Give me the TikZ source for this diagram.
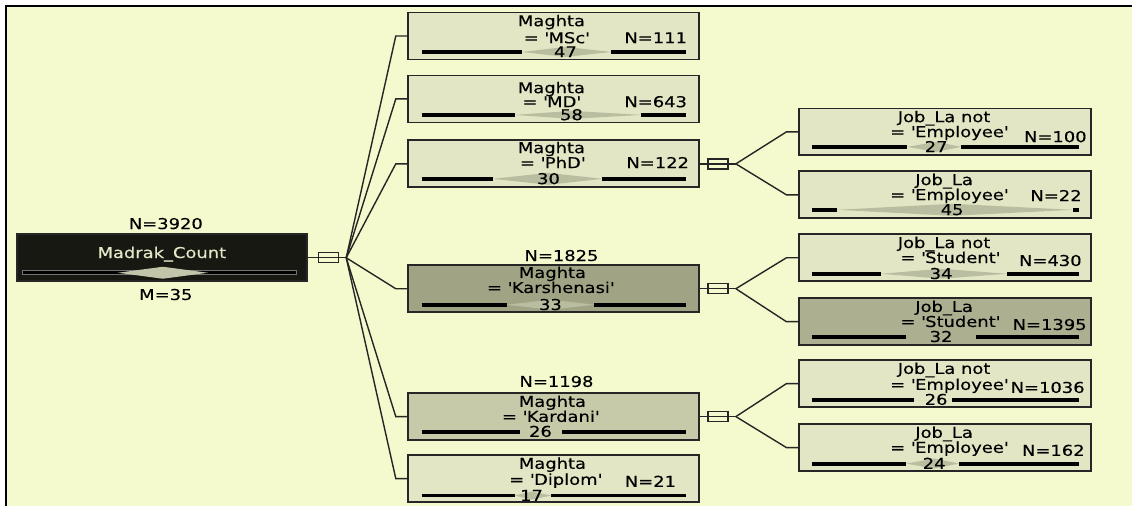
\documentclass[tikz,border=0pt]{standalone}
\usepackage{fontspec}
\setmainfont{DejaVu Sans}[FakeStretch=1.2, FakeBold=0.3]
\usetikzlibrary{calc}
\definecolor{paper}{RGB}{244,250,205}
\definecolor{boxlight}{RGB}{226,230,196}
\definecolor{boxmid}{RGB}{198,202,168}
\definecolor{boxdark}{RGB}{160,164,132}
\definecolor{boxdeep}{RGB}{172,176,144}
\definecolor{spindle}{RGB}{186,190,160}
\definecolor{rootfill}{RGB}{24,24,19}
\definecolor{roottext}{RGB}{228,232,200}
\tikzstyle{split box}=[draw=black!85, line width=1pt, minimum width=5.84cm, minimum height=0.94cm, inner sep=0pt]
\tikzstyle{root box}=[split box, fill=rootfill, minimum width=5.8cm]
\tikzstyle{toggle}=[draw=black!85, line width=0.8pt, fill=paper, minimum width=0.4cm, minimum height=0.2cm, inner sep=0pt]
\tikzstyle{edge}=[draw, line width=0.8pt, black!85]
\tikzstyle{txt}=[font=\fontsize{8.5}{10}\selectfont, inner sep=0pt, text height=1.3ex, text depth=0pt]
\tikzstyle{count}=[txt, anchor=east]
\tikzstyle{bar}=[line width=2.2pt, black]
\newcommand{\quoted}[1]{\textquotesingle#1\textquotesingle}

\begin{document}
\begin{tikzpicture}[x=0.02cm, y=-0.02cm]
	% Background and frame
	\fill[white] (0,0) rectangle (1133,506);
	\fill[paper] (6,6) rectangle (1133,506);
	\draw[line width=1.2pt] (6,506) -- (6,6) -- (1133,6);

	% Root node
	\node[root box] (madrak) at (162,258) {};
	\node[txt, text=roottext] (madraklabel) at (162,252) {Madrak\_Count};
	\node[txt] (madrakn) at (166,223) {N=3920};
	\node[txt] (madrakm) at (166,294) {M=35};
	\filldraw[fill=black, draw=black!55, line width=0.4pt] (22,271) rectangle (297,275);
	\fill[roottext!85!black] (118,273) -- (163,267) -- (208,273) -- (163,279) -- cycle;

	% First split: the Maghta boxes
	\foreach \pos/\label/\shade in {
		{(554,36)/msc/boxlight},
		{(554,99)/md/boxlight},
		{(554,164)/phd/boxlight},
		{(554,289)/karsh/boxdark},
		{(554,417)/kard/boxmid},
		{(554,479)/diplom/boxlight}}
	\node[split box, fill=\shade] (\label) at \pos {};

	% Second split: the Job_La boxes
	\foreach \pos/\label/\shade in {
		{(946,132)/phdno/boxlight},
		{(946,195)/phdyes/boxlight},
		{(946,258)/karshno/boxlight},
		{(946,322)/karshyes/boxdeep},
		{(946,384)/kardno/boxlight},
		{(946,448)/kardyes/boxlight}}
	\node[split box, fill=\shade] (\label) at \pos {};

	% Bars with spindles and means
	\foreach \y/\a/\b/\xv/\v/\h/\l/\r in {
		52/522/612/566/47/5/422/687,
		115/515/642/572/58/4/422/687,
		179/493/603/549/30/6/422/687,
		305/507/595/551/33/5/422/687,
		432/520/563/541/26/0/422/687,
		496/515/552/532/17/4/422/687,
		147/908/962/937/27/5/813/1080,
		210/838/1074/953/45/6/813/1080,
		274/882/1008/942/34/5/813/1080,
		337/907/977/942/32/0/813/1080,
		400/915/953/937/26/0/813/1080,
		464/907/960/935/24/5/813/1080}
	{
		\draw[bar] (\l,\y) -- (\a,\y);
		\draw[bar] (\b,\y) -- (\r,\y);
		\fill[spindle] (\a,\y) -- (\xv,\y-\h) -- (\b,\y) -- (\xv,\y+\h) -- cycle;
		\node[txt] at (\xv,\y-1) {\v};
	}

	% Texts of the Maghta boxes
	\foreach \pos/\label/\name in {
		{(552,20)/mscvar/Maghta}, {(557,37)/msccond/= \quoted{MSc}},
		{(552,87)/mdvar/Maghta}, {(552,101)/mdcond/= \quoted{MD}},
		{(552,147)/phdvar/Maghta}, {(553,162)/phdcond/= \quoted{PhD}},
		{(553,272)/karshvar/Maghta}, {(551,287)/karshcond/= \quoted{Karshenasi}},
		{(553,401)/kardvar/Maghta}, {(551,416)/kardcond/= \quoted{Kardani}},
		{(553,463)/diplomvar/Maghta}, {(556,479)/diplomcond/= \quoted{Diplom}},
		{(562,255)/karshn/N=1825}, {(557,381)/kardn/N=1198}}
	\node[txt] (\label) at \pos {\name};

	\foreach \pos/\label/\name in {
		{(688,37)/mscn/N=111}, {(688,101)/mdn/N=643},
		{(690,162)/phdn/N=122}, {(677,481)/diplomn/N=21}}
	\node[count] (\label) at \pos {\name};

	% Texts of the Job_La boxes
	\foreach \pos/\label/\name in {
		{(945,116)/phdnovar/Job\_La not}, {(950,131)/phdnocond/= \quoted{Employee}},
		{(945,179)/phdyesvar/Job\_La}, {(950,194)/phdyescond/= \quoted{Employee}},
		{(945,242)/karshnovar/Job\_La not}, {(951,257)/karshnocond/= \quoted{Student}},
		{(945,306)/karshyesvar/Job\_La}, {(951,321)/karshyescond/= \quoted{Student}},
		{(945,368)/kardnovar/Job\_La not}, {(950,384)/kardnocond/= \quoted{Employee}},
		{(945,432)/kardyesvar/Job\_La}, {(950,447)/kardyescond/= \quoted{Employee}}}
	\node[txt] (\label) at \pos {\name};

	\foreach \pos/\label/\name in {
		{(1088,136)/phdnon/N=100}, {(1083,195)/phdyesn/N=22},
		{(1083,260)/karshnon/N=430}, {(1088,324)/karshyesn/N=1395},
		{(1086,387)/kardnon/N=1036}, {(1086,450)/kardyesn/N=162}}
	\node[count] (\label) at \pos {\name};

	% Connect the root with its children
	\node[toggle] (madraktog) at ($(madrak.east)+(21,0)$) {};
	\coordinate (madraksplit) at ($(madraktog.east)+(7,0)$);
	\path[edge] (madrak.east) -- (madraktog.west) -- (madraktog.east) -- (madraksplit);
	\foreach \dest in {msc, md, phd, karsh, kard, diplom}
	\path[edge] (madraksplit) -- ($(\dest.west)+(-11,0)$) -- (\dest.west);

	% Connect the split boxes with their children
	\foreach \source/\first/\second in {
		phd/phdno/phdyes,
		karsh/karshno/karshyes,
		kard/kardno/kardyes}
	{
		\node[toggle] (\source tog) at ($(\source.east)+(18,0)$) {};
		\coordinate (\source split) at ($(\source tog.east)+(7,0)$);
		\path[edge] (\source.east) -- (\source tog.west) -- (\source tog.east) -- (\source split);
		\path[edge] (\source split) -- ($(\first.west)+(-12,0)$) -- (\first.west);
		\path[edge] (\source split) -- ($(\second.west)+(-12,0)$) -- (\second.west);
	}
\end{tikzpicture}
\end{document}
